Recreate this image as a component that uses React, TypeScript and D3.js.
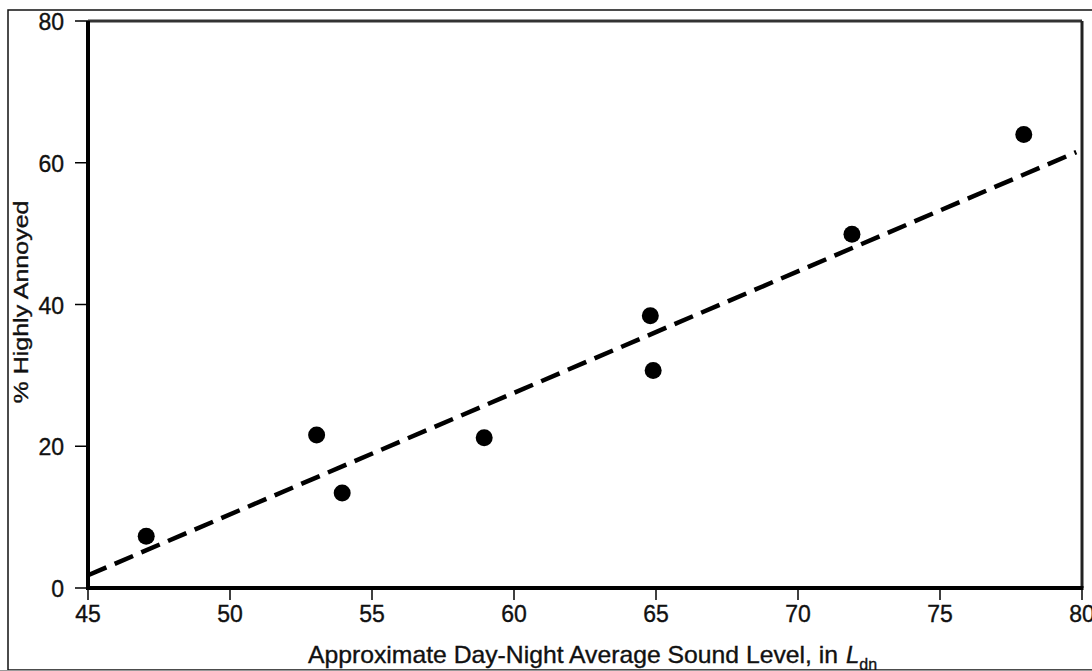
import * as d3 from "d3";

const soundLevel = [47.05, 53.05, 53.95, 58.95, 64.8, 64.9, 71.9, 77.95];
const pctAnnoyed = [7.3, 21.6, 13.4, 21.2, 38.4, 30.7, 49.9, 64.0];
const fitLine = [
  { x: 45, y: 1.8 },
  { x: 79.8, y: 61.5 },
];
const xTicks = [45, 50, 55, 60, 65, 70, 75, 80];
const yTicks = [0, 20, 40, 60, 80];

const font = "'Liberation Sans', Arial, sans-serif";

export default function App() {
  const width = 1092;
  const height = 671;
  const plot = { left: 88, right: 1082, top: 21, bottom: 588 };

  const x = d3.scaleLinear().domain([45, 80]).range([plot.left, plot.right]);
  const y = d3.scaleLinear().domain([0, 80]).range([plot.bottom, plot.top]);

  const line = d3
    .line<{ x: number; y: number }>()
    .x((d) => x(d.x))
    .y((d) => y(d.y));

  // slight stroke on text to match the heavy, blurred look of the original
  const textStyle = { fill: "#111", stroke: "#111", strokeWidth: 0.35 };

  return (
    <svg
      width={width}
      height={height}
      style={{ position: "absolute", left: 0, top: 0, background: "#fff" }}
      fontFamily={font}
    >
      <rect x={0} y={0} width={width} height={height} fill="#fff" />

      {/* frame of plot area */}
      <line x1={plot.left} x2={plot.right} y1={plot.top} y2={plot.top} stroke="#333" strokeWidth={3} />
      <line x1={plot.right} x2={plot.right} y1={plot.top} y2={plot.bottom} stroke="#222" strokeWidth={3} />

      {/* regression line */}
      <path
        d={line(fitLine) ?? ""}
        fill="none"
        stroke="#000"
        strokeWidth={4.5}
        strokeDasharray="20 9"
      />

      {soundLevel.map((v, i) => (
        <circle key={i} cx={x(v)} cy={y(pctAnnoyed[i])} r={8.5} fill="#000" />
      ))}

      {/* axes */}
      <line x1={plot.left} x2={plot.left} y1={plot.top} y2={plot.bottom + 2} stroke="#000" strokeWidth={4} />
      <line x1={plot.left - 2} x2={plot.right + 1.5} y1={plot.bottom} y2={plot.bottom} stroke="#000" strokeWidth={4} />

      {xTicks.map((t) => (
        <g key={`x-${t}`} transform={`translate(${x(t)},0)`}>
          <line y1={plot.bottom} y2={plot.bottom + 12} stroke="#000" strokeWidth={1.5} />
          <text y={622} textAnchor="middle" fontSize={23} style={textStyle}>
            {t}
          </text>
        </g>
      ))}

      {yTicks.map((t) => (
        <g key={`y-${t}`} transform={`translate(0,${y(t)})`}>
          <line x1={plot.left - 13} x2={plot.left} stroke="#000" strokeWidth={1.5} />
          <text x={64} y={9} textAnchor="end" fontSize={23} style={textStyle}>
            {t}
          </text>
        </g>
      ))}

      <text x={308} y={663} fontSize={24} style={textStyle}>
        <tspan textLength={530} lengthAdjust="spacingAndGlyphs">
          Approximate Day-Night Average Sound Level, in
        </tspan>
        <tspan x={846} fontStyle="italic">L</tspan>
        <tspan fontSize={16} dy={7}>dn</tspan>
      </text>

      <text
        transform={`translate(28,302) rotate(-90)`}
        textAnchor="middle"
        fontSize={21}
        style={textStyle}
        textLength={203}
        lengthAdjust="spacingAndGlyphs"
      >
        % Highly Annoyed
      </text>

      {/* outer border, clipping the top label */}
      <rect x={0} y={0} width={width} height={10} fill="#fff" />
      <rect x={8} y={10} width={1100} height={660} fill="none" stroke="#111" strokeWidth={1.5} />
      <rect x={0} y={670} width={width} height={1} fill="#999" />
    </svg>
  );
}
